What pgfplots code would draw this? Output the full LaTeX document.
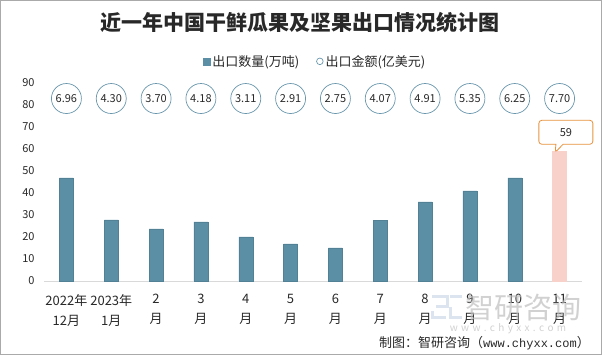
\documentclass[border=0pt]{standalone}
\usepackage{fontspec}
\setmainfont{Noto Sans CJK SC}
\newfontfamily\monof{Liberation Mono}
\usepackage{pgfplots}
\pgfplotsset{compat=1.18}
\usetikzlibrary{shapes.callouts,shapes.geometric}
\definecolor{barblue}{RGB}{91,143,166}
\definecolor{barpink}{RGB}{248,210,202}
\definecolor{circblue}{RGB}{105,150,172}
\definecolor{callorange}{RGB}{232,146,62}
\definecolor{txt}{RGB}{40,40,40}
\definecolor{wm}{RGB}{190,190,190}
\definecolor{wmblue}{RGB}{205,216,232}
\begin{document}
\begin{tikzpicture}[x=1pt,y=1pt]
\useasboundingbox (0,0) rectangle (602,355);
\draw[line width=1pt, draw={rgb,255:red,170;green,170;blue,170}] (0.5,0.5) rectangle (601.5,354.5);
\node[font=\fontsize{21}{24}\selectfont\bfseries, text=txt] at (300,332) {近一年中国干鲜瓜果及坚果出口情况统计图};
\begin{axis}[
  at={(44pt,74pt)}, anchor=south west,
  scale only axis, width=538pt, height=198.6pt,
  xmin=-0.5, xmax=11.5, ymin=0, ymax=90,
  axis x line*=bottom, axis y line*=left,
  y axis line style={draw=none},
  x axis line style={draw={rgb,255:red,217;green,217;blue,217}, line width=0.8pt, -},
  major tick length=0pt,
  ytick={0,10,...,90},
  xtick={0,...,11},
  xticklabels={{2022年\\12月},{2023年\\1月},{2\\月},{3\\月},{4\\月},{5\\月},{6\\月},{7\\月},{8\\月},{9\\月},{10\\月},{11\\月}},
  xticklabel style={align=center, font=\fontsize{13}{19.5}\selectfont, text=txt, yshift=-10pt},
  yticklabel style={font=\fontsize{11}{13}\selectfont, text=txt, xshift=-6pt},
  /pgf/number format/assume math mode=true,
  clip=false,
  legend columns=2,
  legend style={at={(0.504,1.106)}, anchor=center, draw=none, fill=none,
    font=\fontsize{13}{15}\selectfont, text=txt,
    /tikz/every even column/.append style={column sep=15pt}},
]
\addplot[ybar, bar width=14pt, bar shift=0pt, fill=barblue, draw=barblue!90!black,
  legend image code/.code={\fill[barblue] (0,-3.5pt) rectangle (7pt,3.5pt);}]
  coordinates {(0,46.7) (1,27.7) (2,23.6) (3,26.8) (4,20.0) (5,16.8) (6,15.0) (7,27.6) (8,35.8) (9,40.8) (10,46.7)};
\addlegendentry{出口数量(万吨)}
\addplot[ybar, bar width=14pt, bar shift=0pt, fill=barpink, draw=barpink, forget plot]
  coordinates {(11,58.6)};
\addplot[draw=none, mark=none,
  nodes near coords, point meta=explicit symbolic,
  every node near coord/.style={circle, draw=circblue, line width=0.7pt, minimum size=30pt, inner sep=0pt, anchor=center, font=\fontsize{11}{13}\selectfont, text=txt},
  legend image code/.code={\draw[circblue, line width=0.7pt] (3.5pt,0) circle (3.3pt);}]
  table[meta=label] {
x y label
0 82.7 6.96
1 82.7 4.30
2 82.7 3.70
3 82.7 4.18
4 82.7 3.11
5 82.7 2.91
6 82.7 2.75
7 82.7 4.07
8 82.7 4.91
9 82.7 5.35
10 82.7 6.25
11 82.7 7.70
};
\addlegendentry{出口金额(亿美元)}
\node[rectangle callout, draw=callorange, line width=0.8pt, fill=white, rounded corners=3pt,
  minimum width=54pt, minimum height=24pt, font=\fontsize{11}{13}\selectfont, text=txt,
  callout absolute pointer={(axis cs:10.9,58.2)}] at (axis cs:11.14,67.4) {59};
\end{axis}
% watermark
\begin{scope}[opacity=0.7]
\draw[wmblue, line width=3pt] (432,58) -- (447,58) -- (447,48) -- (436,48);
\draw[wmblue, line width=3pt] (450,58) -- (462,58);
\draw[wmblue, line width=3pt] (450,48) -- (450,37) -- (462,37);
\draw[wmblue, line width=3pt] (432,44) -- (432,37) -- (446,37);
\node[text=wm, font=\fontsize{29}{32}\selectfont] at (523,47) {智研咨询};
\node[text=wm, font=\fontsize{10}{12}\selectfont] at (508,26) {w\,\,w\,\,w\,\,.\,\,c\,\,h\,\,y\,\,x\,\,x\,\,.\,\,c\,\,o\,\,m};
\end{scope}
\node[anchor=east, text=txt, font=\fontsize{13}{15}\selectfont, inner sep=0pt] at (590,12) {制图：智研咨询（{\monof\fontsize{12}{14}\selectfont www.chyxx.com}）};
\end{tikzpicture}
\end{document}
